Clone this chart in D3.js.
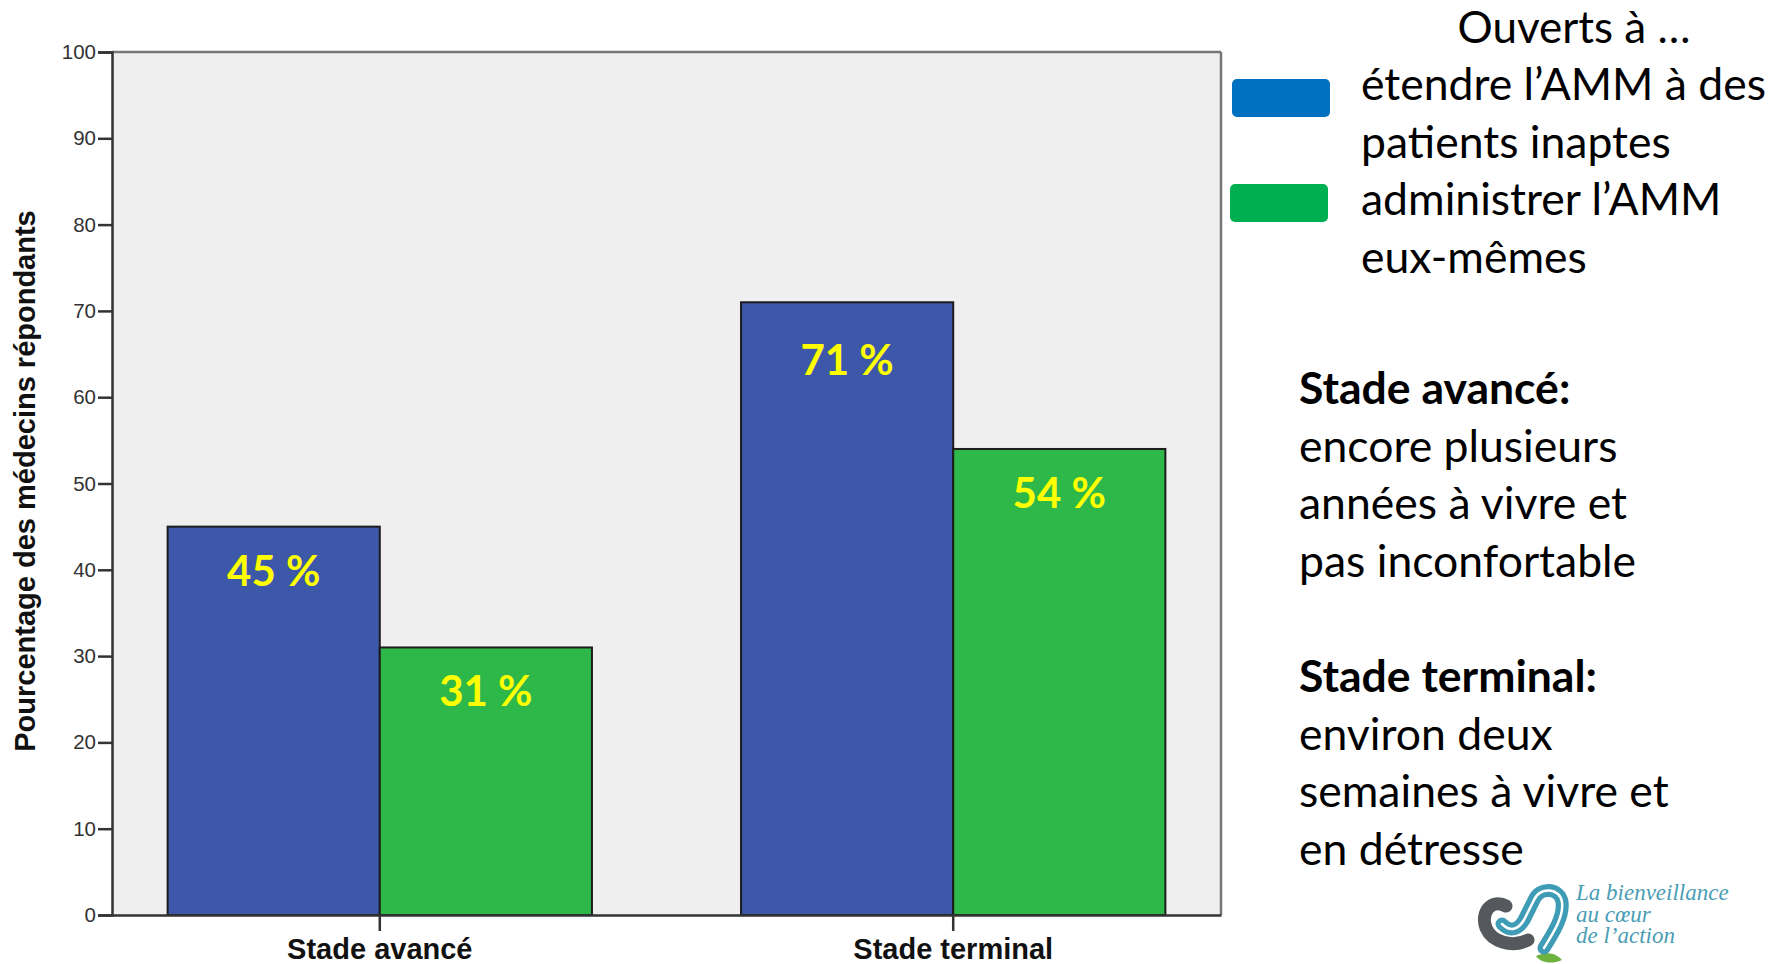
<!DOCTYPE html>
<head>
<meta charset="UTF-8">
<title>Ouverts à l'AMM</title>
<script src="https://cdnjs.cloudflare.com/ajax/libs/d3/7.8.5/d3.min.js"></script>
<style>
body { margin:0; background:#fff; }
.tick text { font-family:"Liberation Sans", Arial, sans-serif; font-size:20.5px; fill:#333; }
.cal { font-family:Lato, "Open Sans", sans-serif; }
</style>
</head>
<body>
<div id="chart"></div>
<script>
var categories = ["Stade avancé", "Stade terminal"];
var series = ["étendre", "administrer"];
var etendre = [45, 71];
var administrer = [31, 54];
var yTicks = [0, 10, 20, 30, 40, 50, 60, 70, 80, 90, 100];

var width = 1786, height = 964;
var plotL = 112, plotR = 1221, plotT = 52, plotB = 915;
var barColors = ["#3d58a9", "#2fb84a"];
var labelNudge = [0, 0, 14, 0]; // the 71 % label sits a bit lower in the original

var svg = d3.select("#chart").append("svg").attr("width", width).attr("height", height);

var x0 = d3.scaleBand().domain(categories).range([plotL, plotR]).paddingInner(0.26).paddingOuter(0.097);
var x1 = d3.scaleBand().domain(series).range([0, x0.bandwidth()]);
var y = d3.scaleLinear().domain([0, 100]).range([plotB, plotT]);

// plot background + grey frame
svg.append("rect").attr("x", plotL).attr("y", plotT).attr("width", plotR - plotL).attr("height", plotB - plotT).attr("fill", "#efefef");
svg.append("line").attr("x1", plotL).attr("x2", plotR).attr("y1", plotT).attr("y2", plotT).attr("stroke", "#777").attr("stroke-width", 2.5);
svg.append("line").attr("x1", plotR).attr("x2", plotR).attr("y1", plotT).attr("y2", plotB).attr("stroke", "#777").attr("stroke-width", 2.5);

var rows = [];
categories.forEach(function(c, i) {
  rows.push({cat: c, s: "étendre", v: etendre[i]});
  rows.push({cat: c, s: "administrer", v: administrer[i]});
});

svg.selectAll(".bar").data(rows).enter().append("rect")
  .attr("class", "bar")
  .attr("x", function(d) { return x0(d.cat) + x1(d.s); })
  .attr("y", function(d) { return y(d.v); })
  .attr("width", x1.bandwidth())
  .attr("height", function(d) { return y(0) - y(d.v); })
  .attr("fill", function(d) { return barColors[series.indexOf(d.s)]; })
  .attr("stroke", "#1c1c1c").attr("stroke-width", 2);

svg.selectAll(".lab").data(rows).enter().append("text")
  .attr("class", "cal")
  .attr("x", function(d) { return x0(d.cat) + x1(d.s) + x1.bandwidth() / 2; })
  .attr("y", function(d, i) { return y(d.v) + 59 + labelNudge[i]; })
  .attr("text-anchor", "middle")
  .style("font-size", "42px").style("font-weight", "bold").style("fill", "#ffff00")
  .text(function(d) { return d.v + " %"; });

// axes
var yAxis = svg.append("g").attr("transform", "translate(" + plotL + ",0)")
  .call(d3.axisLeft(y).tickValues(yTicks).tickSize(14).tickPadding(2));
yAxis.select(".domain").attr("stroke", "#333").attr("stroke-width", 2.5);
yAxis.selectAll(".tick line").attr("stroke", "#333").attr("stroke-width", 2.5);

var xAxis = svg.append("g").attr("transform", "translate(0," + plotB + ")")
  .call(d3.axisBottom(x0).tickSize(16).tickPadding(2).tickSizeOuter(0));
xAxis.select(".domain").attr("stroke", "#333").attr("stroke-width", 2.5);
xAxis.selectAll(".tick line").attr("stroke", "#333").attr("stroke-width", 2.5);
xAxis.selectAll(".tick text").style("font-size", "29px").style("font-weight", "bold").style("fill", "#111").attr("dy", "0.9em");

svg.append("text")
  .attr("transform", "translate(35,481) rotate(-90)")
  .attr("text-anchor", "middle")
  .style("font-family", "'Liberation Sans', Arial, sans-serif")
  .style("font-size", "29px").style("font-weight", "bold").style("fill", "#111")
  .text("Pourcentage des médecins répondants");

// legend
svg.append("text").attr("class", "cal").attr("x", 1574).attr("y", 43).attr("text-anchor", "middle")
  .style("font-size", "44px").text("Ouverts à …");
svg.append("rect").attr("x", 1232).attr("y", 79).attr("width", 98).attr("height", 38).attr("rx", 5).attr("fill", "#0070c0");
svg.append("rect").attr("x", 1230).attr("y", 184).attr("width", 98).attr("height", 38).attr("rx", 5).attr("fill", "#00b050");
var legendLines = ["étendre l’AMM à des", "patients inaptes", "administrer l’AMM", "eux-mêmes"];
svg.selectAll(".leg").data(legendLines).enter().append("text").attr("class", "cal")
  .attr("x", 1361).attr("y", function(d, i) { return 100 + i * 57.5; })
  .style("font-size", "44.5px").text(function(d) { return d; });

// stage descriptions
var notes = [
  {t: "Stade avancé:", b: true}, {t: "encore plusieurs"}, {t: "années à vivre et"}, {t: "pas inconfortable"},
  {t: ""},
  {t: "Stade terminal:", b: true}, {t: "environ deux"}, {t: "semaines à vivre et"}, {t: "en détresse"}
];
svg.selectAll(".note").data(notes).enter().append("text").attr("class", "cal")
  .attr("x", 1299).attr("y", function(d, i) { return 404 + i * 57.6; })
  .style("font-size", "44.5px").style("font-weight", function(d) { return d.b ? "bold" : "normal"; })
  .text(function(d) { return d.t; });

// logo
var logo = svg.append("g").attr("transform", "translate(1470,876)");
logo.append("path").attr("d", "M92,84 C84,76 76,76 66,80 C70,86 80,89 92,84 Z").attr("fill", "#6fb33f");
logo.append("path").attr("d", "M36,30 C22,22 10,36 16,52 C22,66 42,72 58,64")
  .attr("fill", "none").attr("stroke", "#55585c").attr("stroke-width", 13).attr("stroke-linecap", "round");
var teal = "M32,48 C40,56 48,54 54,44 L64,24 C70,10 90,12 92,26 C94,40 84,56 74,72";
logo.append("path").attr("d", teal)
  .attr("fill", "none").attr("stroke", "#3f9cb6").attr("stroke-width", 13).attr("stroke-linecap", "round");
logo.append("path").attr("d", teal)
  .attr("fill", "none").attr("stroke", "#fff").attr("stroke-width", 2.5).attr("stroke-linecap", "round");
var logoText = ["La bienveillance", "au cœur", "de l’action"];
svg.selectAll(".lt").data(logoText).enter().append("text")
  .attr("x", 1576).attr("y", function(d, i) { return 900 + i * 21.5; })
  .style("font-family", "'Liberation Serif', serif").style("font-style", "italic")
  .style("font-size", "23px").style("fill", "#4a9db5").text(function(d) { return d; });
</script>
</body>
</html>
